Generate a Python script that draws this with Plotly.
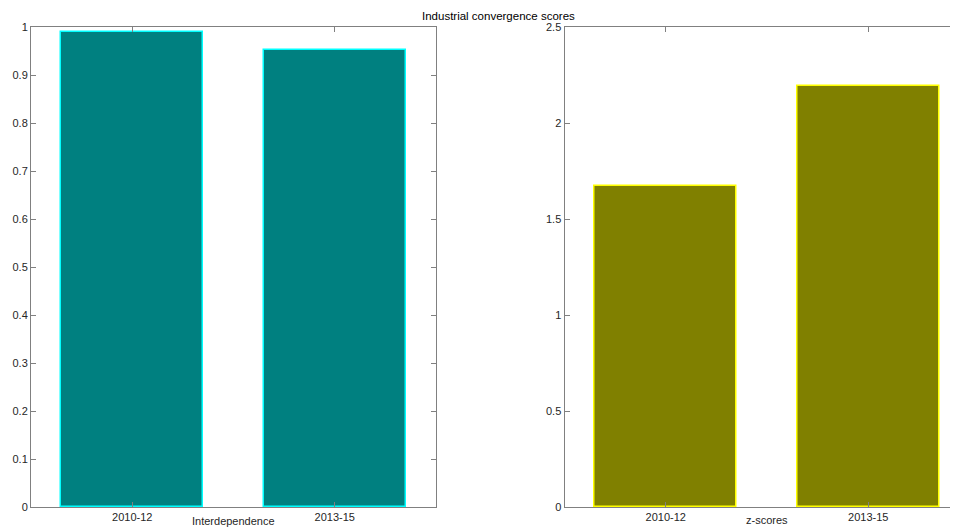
import plotly.graph_objects as go

categories = ["2010-12", "2013-15"]
interdependence = [0.99, 0.953]
zscores = [1.672, 2.191]

# The page body adds an 8px margin; work in page pixels and shift by OFF.
OFF = 8
W, H = 958 - OFF, 528 - OFF
ml, mr, mt = 31 - OFF, 0, 27 - OFF
plot_bottom = 507 - OFF
mb = H - plot_bottom
pw = W - ml - mr
ph = H - mt - mb


def px_x(page_x):
    return (page_x - OFF - ml) / pw


def px_y(page_y):
    return (plot_bottom - (page_y - OFF)) / ph


fig = go.Figure()
fig.add_trace(go.Bar(x=categories, y=interdependence, width=0.7,
                     marker=dict(color="#008080", line=dict(color="#00FFFF", width=1.5)),
                     xaxis="x", yaxis="y", showlegend=False))
fig.add_trace(go.Bar(x=categories, y=zscores, width=0.7,
                     marker=dict(color="#808000", line=dict(color="#FFFF00", width=1.5)),
                     xaxis="x2", yaxis="y2", showlegend=False))

axcol = "#808080"
font_family = "Liberation Sans, Arial, sans-serif"
tickfont = dict(family=font_family, size=11, color="#262626")
common_x = dict(showline=True, linecolor=axcol, linewidth=1, ticks="inside", ticklen=5,
                tickcolor=axcol, showgrid=False, zeroline=False, tickfont=tickfont,
                type="category", fixedrange=True)
common_y = dict(showline=True, linecolor=axcol, linewidth=1, ticks="inside", ticklen=5,
                tickcolor=axcol, showgrid=False, zeroline=False, tickfont=tickfont,
                fixedrange=True)

left_end = px_x(436)
right_start = px_x(564.5)
unit_px = 203.0
overflow = 969.5 - 958

fig.update_layout(
    width=W, height=H, autosize=False,
    margin=dict(l=ml, r=mr, t=mt, b=mb, pad=0),
    plot_bgcolor="white", paper_bgcolor="white",
    bargap=0,
    xaxis=dict(domain=[0, left_end], range=[-0.5, 1.5], mirror="ticks", **common_x),
    yaxis=dict(range=[0, 1], dtick=0.1, mirror="ticks", anchor="x", **common_y),
    xaxis2=dict(domain=[right_start, 1], range=[-0.5, 1.5 - overflow / unit_px],
                mirror="ticks", anchor="y2", **common_x),
    yaxis2=dict(range=[0, 2.5], dtick=0.5, mirror=False, anchor="x2", **common_y),
    annotations=[
        dict(text="Industrial convergence scores", xref="paper", yref="paper",
             x=px_x(498), y=px_y(16), xanchor="center", yanchor="middle",
             showarrow=False, font=dict(family=font_family, size=11.5, color="black")),
        dict(text="Interdependence", xref="paper", yref="paper",
             x=px_x(233.5), y=px_y(521), xanchor="center", yanchor="middle",
             showarrow=False, font=dict(family=font_family, size=11, color="#262626")),
        dict(text="z-scores", xref="paper", yref="paper",
             x=px_x(766.5), y=px_y(520), xanchor="center", yanchor="middle",
             showarrow=False, font=dict(family=font_family, size=11, color="#262626")),
    ],
)

fig.write_html("out.html", config={"displayModeBar": False})
